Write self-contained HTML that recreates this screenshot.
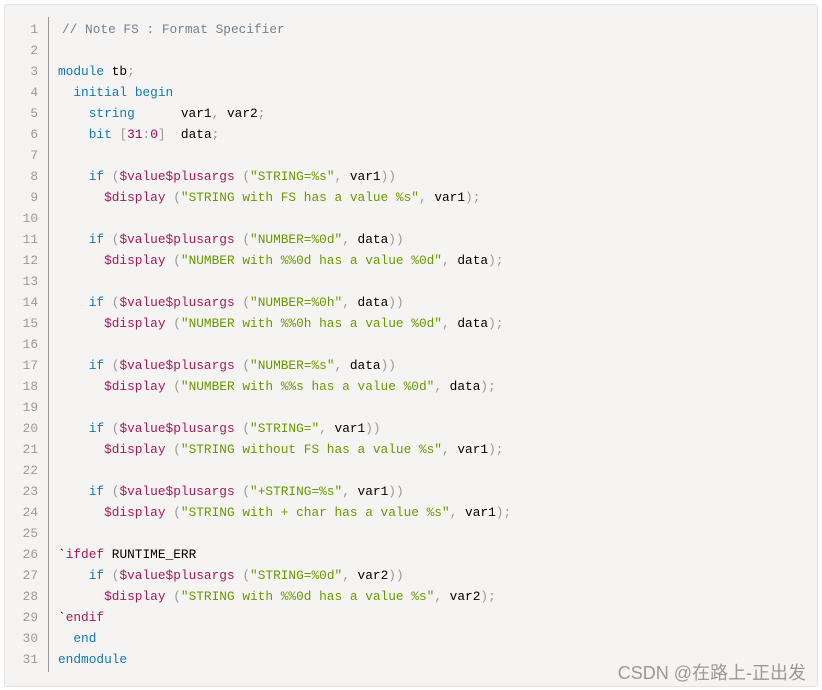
<!DOCTYPE html>
<html><head><meta charset="utf-8"><style>
html,body{margin:0;padding:0;background:#fff;width:822px;height:690px;overflow:hidden}
.box{position:absolute;left:4px;top:4px;width:812px;height:681px;background:#f6f4f2;border:1px solid #e4e4e4;border-radius:3px}
.gut{position:absolute;left:48px;top:17px;height:655px;border-left:1px solid #999}
pre{margin:0;position:absolute;top:19px;font-family:"Liberation Mono",monospace;font-size:12.8px;line-height:21px;white-space:pre}
.ln{left:12px;width:26px;text-align:right;color:#999}
.code{left:58px;color:#000}
.k{color:#1177b4}.c{color:#708090;padding-left:4px}.p{color:#999}.s{color:#669900}.f{color:#a3195b}.n{color:#990055}
.wm{position:absolute;right:16px;top:659px;font-family:"Liberation Sans","Noto Sans CJK SC",sans-serif;font-size:18px;color:#999}
</style></head><body>
<div class="box"></div><div class="gut"></div>
<pre class="ln">1
2
3
4
5
6
7
8
9
10
11
12
13
14
15
16
17
18
19
20
21
22
23
24
25
26
27
28
29
30
31</pre>
<pre class="code"><span class="c">// Note FS : Format Specifier</span>

<span class="k">module</span> tb<span class="p">;</span>
  <span class="k">initial</span> <span class="k">begin</span>
    <span class="k">string</span>      var1<span class="p">,</span> var2<span class="p">;</span>
    <span class="k">bit</span> <span class="p">[</span><span class="n">31</span><span class="p">:</span><span class="n">0</span><span class="p">]</span>  data<span class="p">;</span>

    <span class="k">if</span> <span class="p">(</span><span class="f">$value$plusargs</span> <span class="p">(</span><span class="s">"STRING=%s"</span><span class="p">,</span> var1<span class="p">))</span>
      <span class="f">$display</span> <span class="p">(</span><span class="s">"STRING with FS has a value %s"</span><span class="p">,</span> var1<span class="p">);</span>

    <span class="k">if</span> <span class="p">(</span><span class="f">$value$plusargs</span> <span class="p">(</span><span class="s">"NUMBER=%0d"</span><span class="p">,</span> data<span class="p">))</span>
      <span class="f">$display</span> <span class="p">(</span><span class="s">"NUMBER with %%0d has a value %0d"</span><span class="p">,</span> data<span class="p">);</span>

    <span class="k">if</span> <span class="p">(</span><span class="f">$value$plusargs</span> <span class="p">(</span><span class="s">"NUMBER=%0h"</span><span class="p">,</span> data<span class="p">))</span>
      <span class="f">$display</span> <span class="p">(</span><span class="s">"NUMBER with %%0h has a value %0d"</span><span class="p">,</span> data<span class="p">);</span>

    <span class="k">if</span> <span class="p">(</span><span class="f">$value$plusargs</span> <span class="p">(</span><span class="s">"NUMBER=%s"</span><span class="p">,</span> data<span class="p">))</span>
      <span class="f">$display</span> <span class="p">(</span><span class="s">"NUMBER with %%s has a value %0d"</span><span class="p">,</span> data<span class="p">);</span>

    <span class="k">if</span> <span class="p">(</span><span class="f">$value$plusargs</span> <span class="p">(</span><span class="s">"STRING="</span><span class="p">,</span> var1<span class="p">))</span>
      <span class="f">$display</span> <span class="p">(</span><span class="s">"STRING without FS has a value %s"</span><span class="p">,</span> var1<span class="p">);</span>

    <span class="k">if</span> <span class="p">(</span><span class="f">$value$plusargs</span> <span class="p">(</span><span class="s">"+STRING=%s"</span><span class="p">,</span> var1<span class="p">))</span>
      <span class="f">$display</span> <span class="p">(</span><span class="s">"STRING with + char has a value %s"</span><span class="p">,</span> var1<span class="p">);</span>

`<span class="f">ifdef</span> RUNTIME_ERR
    <span class="k">if</span> <span class="p">(</span><span class="f">$value$plusargs</span> <span class="p">(</span><span class="s">"STRING=%0d"</span><span class="p">,</span> var2<span class="p">))</span>
      <span class="f">$display</span> <span class="p">(</span><span class="s">"STRING with %%0d has a value %s"</span><span class="p">,</span> var2<span class="p">);</span>
`<span class="f">endif</span>
  <span class="k">end</span>
<span class="k">endmodule</span></pre>
<div class="wm">CSDN @在路上-正出发</div>
</body></html>
